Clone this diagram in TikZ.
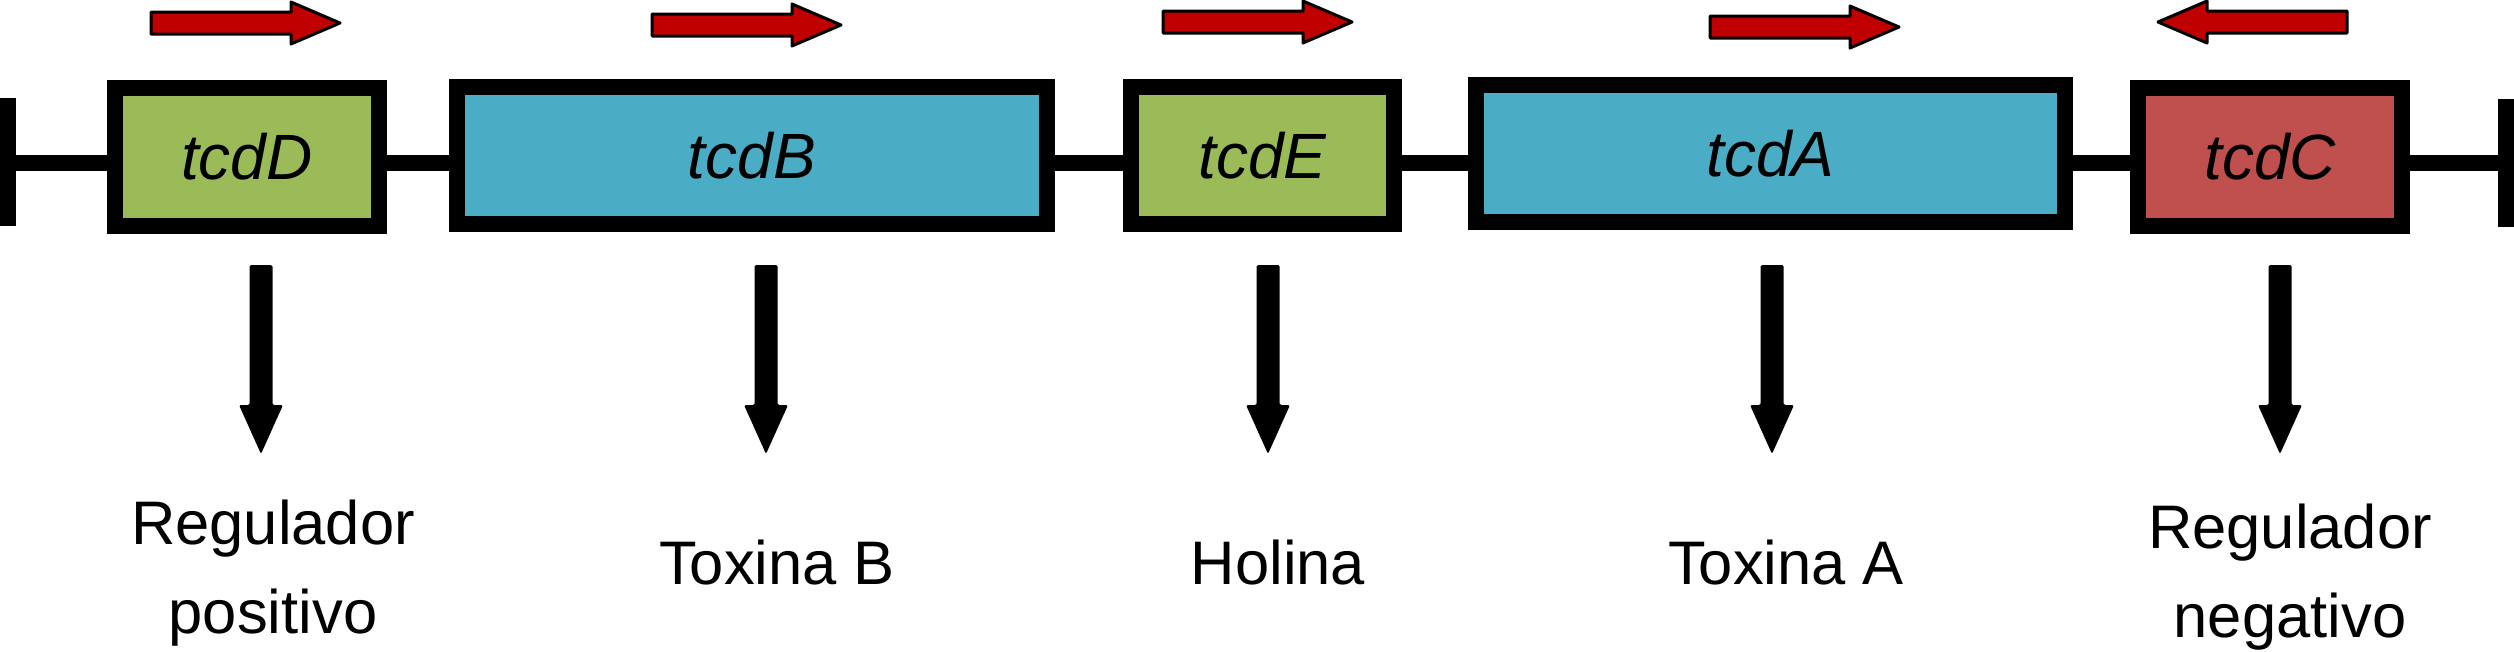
\documentclass[tikz,border=0pt]{standalone}
\usepackage{fontspec}
\setmainfont{Liberation Sans}
\definecolor{gGreen}{HTML}{9BBB59}
\definecolor{gBlue}{HTML}{4BACC6}
\definecolor{gRed}{HTML}{C0504D}
\definecolor{arRed}{HTML}{C00000}
\begin{document}
\begin{tikzpicture}[x=1pt,y=-1pt,
  gene/.style={draw=black, line width=16pt, rectangle, inner sep=0pt, outer sep=0pt,
    font=\fontsize{64}{70}\selectfont\itshape},
  link/.style={line width=16pt, draw=black},
  endbar/.style={fill=black, inner sep=0pt, outer sep=0pt, minimum width=16pt, minimum height=128pt},
  lbl/.style={font=\fontsize{61.5}{89}\selectfont, align=center, anchor=base, inner sep=0pt},
  redarr/.style={fill=arRed, draw=black, line width=3pt, line join=round},
  fwd/.pic={\path[redarr] (0,-11) -- (140,-11) -- (140,-21) -- (189,0) -- (140,21) -- (140,11) -- (0,11) -- cycle;},
  dnarrow/.pic={\fill[black, rounded corners=1.5pt] (-11.5,0) -- (-11.5,140) -- (-22,140) -- (0,189) -- (22,140) -- (11.5,140) -- (11.5,0) -- cycle;}
]
\useasboundingbox (0,0) rectangle (2514,651);

% axis height of the DNA line
\coordinate (ax) at (0,163);

% end bars
\node[endbar] (lend) at (8,162) {};
\node[endbar] (rend) at (2505.5,162.5) {};

% genes
\node[gene, fill=gGreen, minimum width=264pt, minimum height=138pt] (tcdD) at (247,157) {tcdD};
\node[gene, fill=gBlue,  minimum width=590pt, minimum height=137pt] (tcdB) at (752,155.5) {tcdB};
\node[gene, fill=gGreen, minimum width=263pt, minimum height=137pt] (tcdE) at (1262.5,155.5) {tcdE};
\node[gene, fill=gBlue,  minimum width=589pt, minimum height=137pt] (tcdA) at (1770.5,153.5) {tcdA};
\node[gene, fill=gRed,   minimum width=264pt, minimum height=138pt] (tcdC) at (2270,157) {tcdC};

% DNA line segments
\draw[link] (lend.east |- ax) -- (tcdD.west |- ax);
\draw[link] (tcdD.east |- ax) -- (tcdB.west |- ax);
\draw[link] (tcdB.east |- ax) -- (tcdE.west |- ax);
\draw[link] (tcdE.east |- ax) -- (tcdA.west |- ax);
\draw[link] (tcdA.east |- ax) -- (tcdC.west |- ax);
\draw[link] (tcdC.east |- ax) -- (rend.west |- ax);

% direction arrows
\pic (r1) at (151,23) {fwd};
\pic (r2) at (652,25) {fwd};
\pic (r3) at (1163,22) {fwd};
\pic (r4) at (1710,27) {fwd};
\pic[xscale=-1] (r5) at (2347,22) {fwd};

% down arrows
\pic (d1) at (261,265) {dnarrow};
\pic (d2) at (766,265) {dnarrow};
\pic (d3) at (1268,265) {dnarrow};
\pic (d4) at (1772,265) {dnarrow};
\pic (d5) at (2280,265) {dnarrow};

% labels
\node[lbl] (l1) at (273,633) {Regulador\\positivo};
\node[lbl] (l2) at (777,584) {Toxina B};
\node[lbl] (l3) at (1278,584) {Holina};
\node[lbl] (l4) at (1786,584) {Toxina A};
\node[lbl] (l5) at (2290,637) {Regulador\\negativo};
\end{tikzpicture}
\end{document}
